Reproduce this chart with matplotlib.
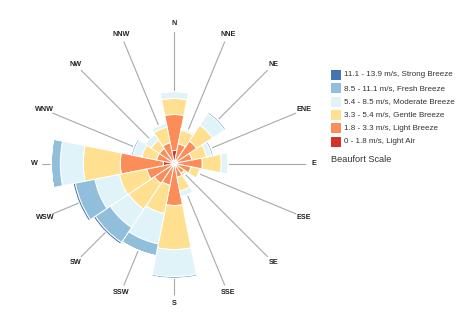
import numpy as np
import matplotlib
matplotlib.use("Agg")
import matplotlib.pyplot as plt
from matplotlib.patches import Rectangle

plt.rcParams['font.family'] = ['Liberation Sans', 'DejaVu Sans']

directions = ["N", "NNE", "NE", "ENE", "E", "ESE", "SE", "SSE",
              "S", "SSW", "SW", "WSW", "W", "WNW", "NW", "NNW"]

series_names = ["0 - 1.8 m/s, Light Air",
                "1.8 - 3.3 m/s, Light Breeze",
                "3.3 - 5.4 m/s, Gentle Breeze",
                "5.4 - 8.5 m/s, Moderate Breeze",
                "8.5 - 11.1 m/s, Fresh Breeze",
                "11.1 - 13.9 m/s, Strong Breeze"]
series_colors = ["#d73027", "#fc8d59", "#fee090", "#e0f3f8", "#91bfdb", "#4575b4"]

# frequency (%) per direction, one list per Beaufort class
light_air      = [1.3, 0.3, 0.3, 0.2, 0.3, 0.2, 0.2, 0.2, 0.3, 0.3, 0.3, 0.3, 1.1, 0.2, 0.2, 0.3]
light_breeze   = [3.6, 1.7, 2.4, 1.6, 2.5, 1.5, 1.0, 1.2, 3.9, 1.9, 2.1, 2.5, 4.3, 1.6, 1.6, 1.8]
gentle_breeze  = [1.6, 1.4, 1.9, 1.5, 1.9, 0.9, 0.3, 1.4, 4.4, 2.9, 3.1, 2.8, 3.7, 1.5, 1.0, 1.6]
moderate_breeze= [0.7, 0.2, 1.4, 0.5, 0.7, 0.1, 0.0, 0.6, 2.7, 3.1, 2.2, 2.5, 2.3, 0.9, 0.7, 0.4]
fresh_breeze   = [0.0, 0.0, 0.2, 0.2, 0.0, 0.0, 0.0, 0.0, 0.2, 1.2, 1.8, 2.0, 0.9, 0.2, 0.0, 0.0]
strong_breeze  = [0.0, 0.0, 0.0, 0.0, 0.0, 0.0, 0.0, 0.0, 0.0, 0.0, 0.2, 0.2, 0.0, 0.0, 0.0, 0.0]

series = [light_air, light_breeze, gentle_breeze, moderate_breeze, fresh_breeze, strong_breeze]

W, H = 464, 334
fig = plt.figure(figsize=(W / 100, H / 100), dpi=100)
fig.patch.set_facecolor("white")

cx, cy = 174.3, 163.5      # centre in px (from top)
R = 132.0                  # radius of grid lines in px
ax = fig.add_axes([(cx - R) / W, (H - cy - R) / H, 2 * R / W, 2 * R / H], projection="polar")
ax.set_theta_zero_location("N")
ax.set_theta_direction(-1)
rmax = 13.2
ax.set_ylim(0, rmax)

n = len(directions)
theta = np.arange(n) * 2 * np.pi / n
width = 2 * np.pi / n

bottom = np.zeros(n)
for vals, col in zip(series, series_colors):
    v = np.array(vals)
    ax.bar(theta, v, width=width, bottom=bottom, color=col,
           edgecolor="white", linewidth=0.7, zorder=3)
    bottom += v

ax.set_yticks([])
ax.set_xticks(theta)
ax.set_xticklabels([])
ax.xaxis.grid(True, color="#a8a8a8", linewidth=0.8, zorder=0)
ax.set_axisbelow(True)
ax.spines["polar"].set_visible(False)
ax.set_facecolor("none")

for t, lab in zip(theta, directions):
    ax.text(t, rmax * 140 / 132, lab, ha="center", va="center",
            fontsize=5.2, fontweight="bold", color="#222222", clip_on=False)

# legend (top entry = strongest class)
row_y = [75, 88.3, 101.7, 115, 128.3, 141.7]
for y, name, col in zip(row_y, series_names[::-1], series_colors[::-1]):
    fig.add_artist(Rectangle((330.7 / W, 1 - (y + 5) / H), 10 / W, 10 / H,
                             transform=fig.transFigure, facecolor=col, edgecolor="none"))
    fig.text(344 / W, 1 - y / H, name, ha="left", va="center",
             fontsize=5.8, color="#333333")
fig.text(330.7 / W, 1 - 160 / H, "Beaufort Scale", ha="left", va="center",
         fontsize=6.6, color="#333333")

fig.savefig("out.png", dpi=100, facecolor="white")
